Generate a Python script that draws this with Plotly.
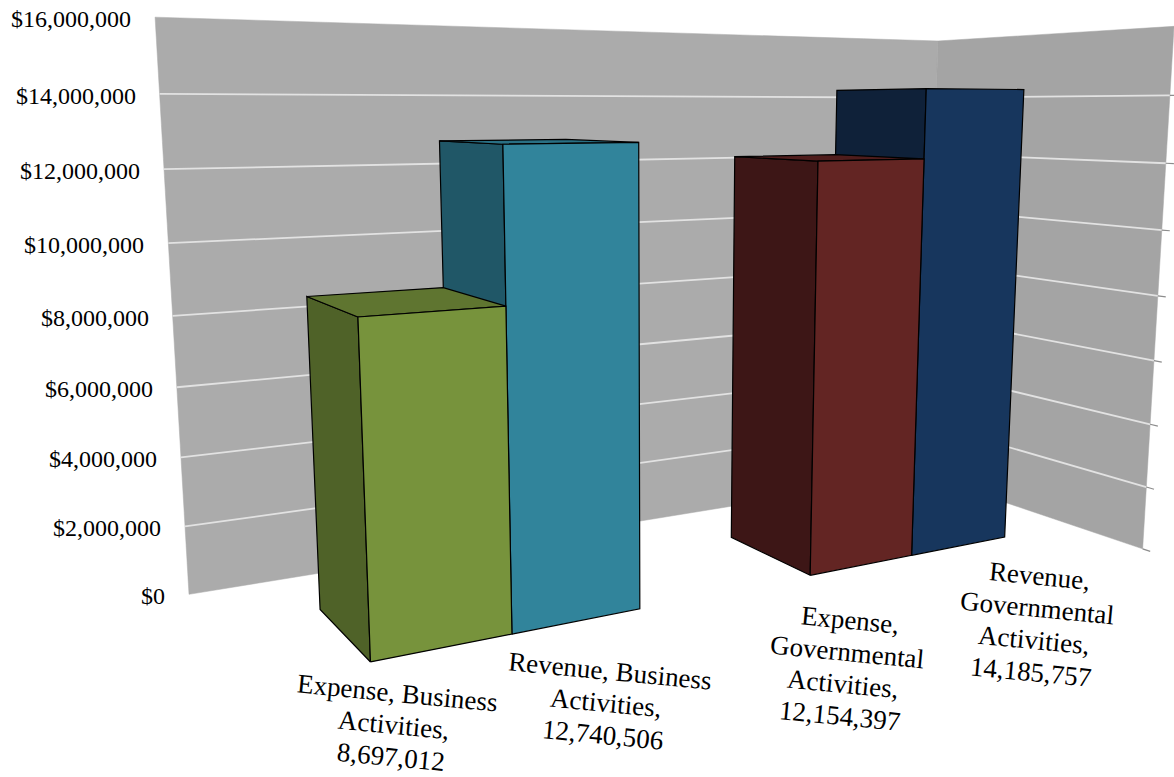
import textwrap
import numpy as np
import plotly.graph_objects as go

# ---------------- data ----------------
CATEGORIES = ["Business Activities", "Governmental Activities"]
SERIES = ["Expense", "Revenue"]
EXPENSE = [8697012, 12154397]
REVENUE = [12740506, 14185757]
VALUE_TICKS = [0, 2000000, 4000000, 6000000, 8000000, 10000000, 12000000, 14000000, 16000000]
TICK_LABELS = ["$0", "$2,000,000", "$4,000,000", "$6,000,000", "$8,000,000",
               "$10,000,000", "$12,000,000", "$14,000,000", "$16,000,000"]

# ---------------- styles ----------------
COLORS = {
    ("Expense", "Business Activities"): dict(front="#77933C", side="#4F6228", top="#5F7530"),
    ("Revenue", "Business Activities"): dict(front="#31849B", side="#205767", top="#2A7084"),
    ("Expense", "Governmental Activities"): dict(front="#632523", side="#3D1616", top="#4F1D1C"),
    ("Revenue", "Governmental Activities"): dict(front="#17365D", side="#0F2139", top="#132B4A"),
}
BACK_WALL = "#ABABAB"
SIDE_WALL = "#A4A4A4"
GRID = "#E2E2E2"
EDGE = "#000000"
FONT = "Liberation Serif"
LABEL_ANGLE = 5.5
LABEL_LINE_GAP = 32
LABEL_OFFSETS = {  # pixel offsets of the data-label blocks from the bar base centre
    ("Expense", "Business Activities"): (-49, 77),
    ("Revenue", "Business Activities"): (29, 82),
    ("Expense", "Governmental Activities"): (-17, 103),
    ("Revenue", "Governmental Activities"): (76, 78),
}

# ---------------- 3-D scene geometry (world units, value in millions) ----------------
Z_UNIT = 1e6
BAR_W = 3.84
GAP_W = 1.5 * BAR_W
X0 = 7.46
Y_FLOOR_FRONT, BAR_FRONT, BAR_BACK, Y_BACK = 29.58, 32.66, 36.99, 40.05
X1 = X0 + len(CATEGORIES) * (len(SERIES) * BAR_W + GAP_W)
Z_TOP = VALUE_TICKS[-1] / Z_UNIT

# perspective camera
CX, CY, FOC = 659.0, 352.0, 1415.0
PITCH = np.arctan2(243.0, 1415.0)
YAW = np.radians(29.7)
CAM = np.array([0.0, 0.0, 13.6])
H = np.array([np.sin(YAW), np.cos(YAW), 0.0])
R = np.array([np.cos(YAW), -np.sin(YAW), 0.0])
UP = np.array([0.0, 0.0, 1.0])
FWD = np.cos(PITCH) * H - np.sin(PITCH) * UP
DN = -(np.sin(PITCH) * H + np.cos(PITCH) * UP)


def proj(p):
    v = np.asarray(p, dtype=float) - CAM
    zc = v @ FWD
    return CX + FOC * (v @ R) / zc, CY + FOC * (v @ DN) / zc


def poly(points, fill, line_color=EDGE, width=1.2):
    xy = [proj(p) for p in points]
    xy.append(xy[0])
    return go.Scatter(x=[a for a, _ in xy], y=[b for _, b in xy], mode="lines",
                      fill="toself", fillcolor=fill,
                      line=dict(color=line_color, width=width),
                      hoverinfo="skip", showlegend=False)


def seg(p, q, color, width):
    a, b = proj(p), proj(q)
    return go.Scatter(x=[a[0], b[0]], y=[a[1], b[1]], mode="lines",
                      line=dict(color=color, width=width),
                      hoverinfo="skip", showlegend=False)


fig = go.Figure()

# walls
fig.add_trace(poly([(X0, Y_BACK, 0), (X1, Y_BACK, 0), (X1, Y_BACK, Z_TOP), (X0, Y_BACK, Z_TOP)],
                   BACK_WALL, BACK_WALL, 0.5))
fig.add_trace(poly([(X1, Y_BACK, 0), (X1, Y_FLOOR_FRONT, 0), (X1, Y_FLOOR_FRONT, Z_TOP), (X1, Y_BACK, Z_TOP)],
                   SIDE_WALL, SIDE_WALL, 0.5))

# gridlines + side ticks
for v in VALUE_TICKS:
    z = v / Z_UNIT
    if 0 < v < VALUE_TICKS[-1]:
        fig.add_trace(seg((X0, Y_BACK, z), (X1, Y_BACK, z), GRID, 1.8))
        fig.add_trace(seg((X1, Y_BACK, z), (X1, Y_FLOOR_FRONT, z), GRID, 1.8))
    fig.add_trace(seg((X1, Y_FLOOR_FRONT, z), (X1, Y_FLOOR_FRONT - 0.3, z), "#8C8C8C", 1.2))

# bars
bars = []
for ci, cat in enumerate(CATEGORIES):
    for si, (ser, vals) in enumerate(zip(SERIES, [EXPENSE, REVENUE])):
        xl = X0 + GAP_W / 2 + ci * (len(SERIES) * BAR_W + GAP_W) + si * BAR_W
        bars.append((xl, ser, cat, vals[ci]))

for xl, ser, cat, val in sorted(bars, key=lambda b: -b[0]):
    xr = xl + BAR_W
    zt = val / Z_UNIT
    col = COLORS[(ser, cat)]
    fig.add_trace(poly([(xl, BAR_FRONT, 0), (xl, BAR_BACK, 0), (xl, BAR_BACK, zt), (xl, BAR_FRONT, zt)], col["side"]))
    if zt < CAM[2]:
        fig.add_trace(poly([(xl, BAR_FRONT, zt), (xr, BAR_FRONT, zt), (xr, BAR_BACK, zt), (xl, BAR_BACK, zt)], col["top"]))
    fig.add_trace(poly([(xl, BAR_FRONT, 0), (xr, BAR_FRONT, 0), (xr, BAR_FRONT, zt), (xl, BAR_FRONT, zt)], col["front"]))

# value-axis labels
for v, lab in zip(VALUE_TICKS, TICK_LABELS):
    u, w = proj((X0, Y_BACK, v / Z_UNIT))
    fig.add_annotation(x=u - 22, y=w + 2, text=lab, showarrow=False, xanchor="right", yanchor="middle",
                       font=dict(family=FONT, size=24, color="#000000"))

# data labels (one annotation per wrapped line, stacked along the tilted text direction)
ang = np.radians(LABEL_ANGLE)
for xl, ser, cat, val in bars:
    u, w = proj((xl + BAR_W / 2, BAR_FRONT, 0))
    dx, dy = LABEL_OFFSETS[(ser, cat)]
    lines = textwrap.wrap(f"{ser}, {cat}, {val:,}", 18)
    n = len(lines)
    for k, line in enumerate(lines):
        s = (k - (n - 1) / 2) * LABEL_LINE_GAP
        fig.add_annotation(x=u + dx - s * np.sin(ang), y=w + dy + s * np.cos(ang), text=line,
                           showarrow=False, xanchor="center", yanchor="middle",
                           textangle=LABEL_ANGLE,
                           font=dict(family=FONT, size=27, color="#000000"))

fig.update_layout(
    width=1174, height=777,
    margin=dict(l=0, r=0, t=0, b=0),
    paper_bgcolor="white", plot_bgcolor="white",
    xaxis=dict(range=[0, 1174], visible=False, fixedrange=True),
    yaxis=dict(range=[777, 0], visible=False, fixedrange=True),
    showlegend=False,
)

fig.write_html("out.html")
